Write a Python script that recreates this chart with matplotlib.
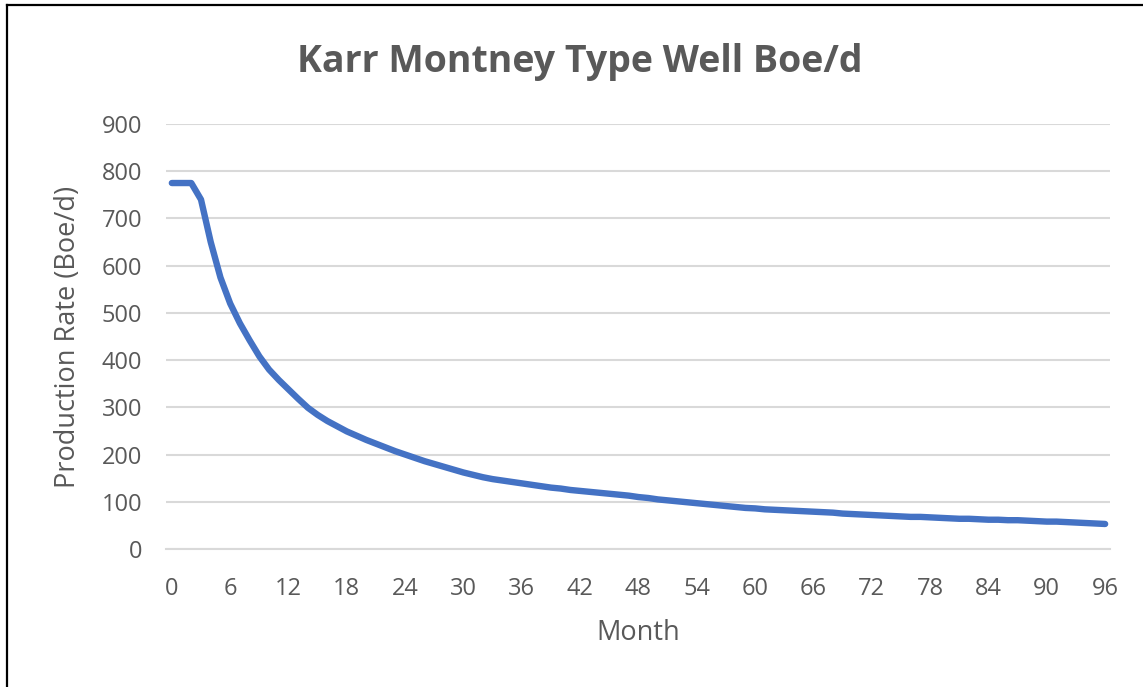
import numpy as np
import matplotlib
matplotlib.use("Agg")
import matplotlib.pyplot as plt
from matplotlib.lines import Line2D

# type well curve, Boe/d by month
months = list(range(0, 97))
rate = [775, 775, 775, 740, 650, 575, 520, 478, 442, 408,
        380, 358, 338, 318, 299, 284, 271, 260, 249, 240,
        231, 223, 215, 207, 200, 193, 186, 180, 174, 168,
        162, 157, 152, 148, 145, 142, 139, 136, 133, 130,
        128, 125, 123, 121, 119, 117, 115, 113, 110, 108,
        105, 103, 101, 99, 97, 95, 93, 91, 89, 87,
        86, 84, 83, 82, 81, 80, 79, 78, 77, 75,
        74, 73, 72, 71, 70, 69, 68, 68, 67, 66,
        65, 64, 64, 63, 62, 62, 61, 61, 60, 59,
        58, 58, 57, 56, 55, 54, 53]
x_ticks = list(range(0, 97, 6))
y_ticks = list(range(0, 901, 100))

W, H = 1143, 687
plt.rcParams['font.family'] = ['Open Sans', 'DejaVu Sans']

fig = plt.figure(figsize=(W / 100, H / 100), dpi=100)
ax = fig.add_axes([166 / W, 1 - 549 / H, (1110 - 166) / W, (549 - 124) / H])

ax.plot(months, rate, color='#4472C4', lw=4.6, solid_capstyle='round',
        solid_joinstyle='round', zorder=3)

ax.set_xlim(-0.6, 96.5)
ax.set_ylim(0, 900)
ax.set_xticks(x_ticks)
ax.set_yticks(y_ticks)
ax.grid(axis='y', color='#D9D9D9', lw=1.5)
ax.set_axisbelow(True)
for s in ['top', 'right', 'left']:
    ax.spines[s].set_visible(False)
ax.spines['bottom'].set_color('#D9D9D9')
ax.spines['bottom'].set_linewidth(1.5)
ax.tick_params(length=0, labelsize=17, labelcolor='#595959')
ax.tick_params(axis='x', pad=20)
ax.tick_params(axis='y', pad=17)

fig.text(580 / W, 1 - 62 / H, 'Karr Montney Type Well Boe/d', ha='center',
         va='center', fontsize=27, fontweight='bold', color='#595959')
fig.text(638 / W, 1 - 633 / H, 'Month', ha='center', va='center',
         fontsize=19.5, color='#595959')
fig.text(68 / W, 1 - 337 / H, 'Production Rate (Boe/d)', ha='center',
         va='center', rotation=90, fontsize=19.5, color='#595959')

# black frame (left and top edges visible in the crop)
fig.add_artist(Line2D([7 / W, 7 / W], [0, 1 - 5 / H], color='black', lw=1.6))
fig.add_artist(Line2D([7 / W, 1], [1 - 5 / H, 1 - 5 / H], color='black', lw=1.6))

fig.savefig('out.png', dpi=100)
